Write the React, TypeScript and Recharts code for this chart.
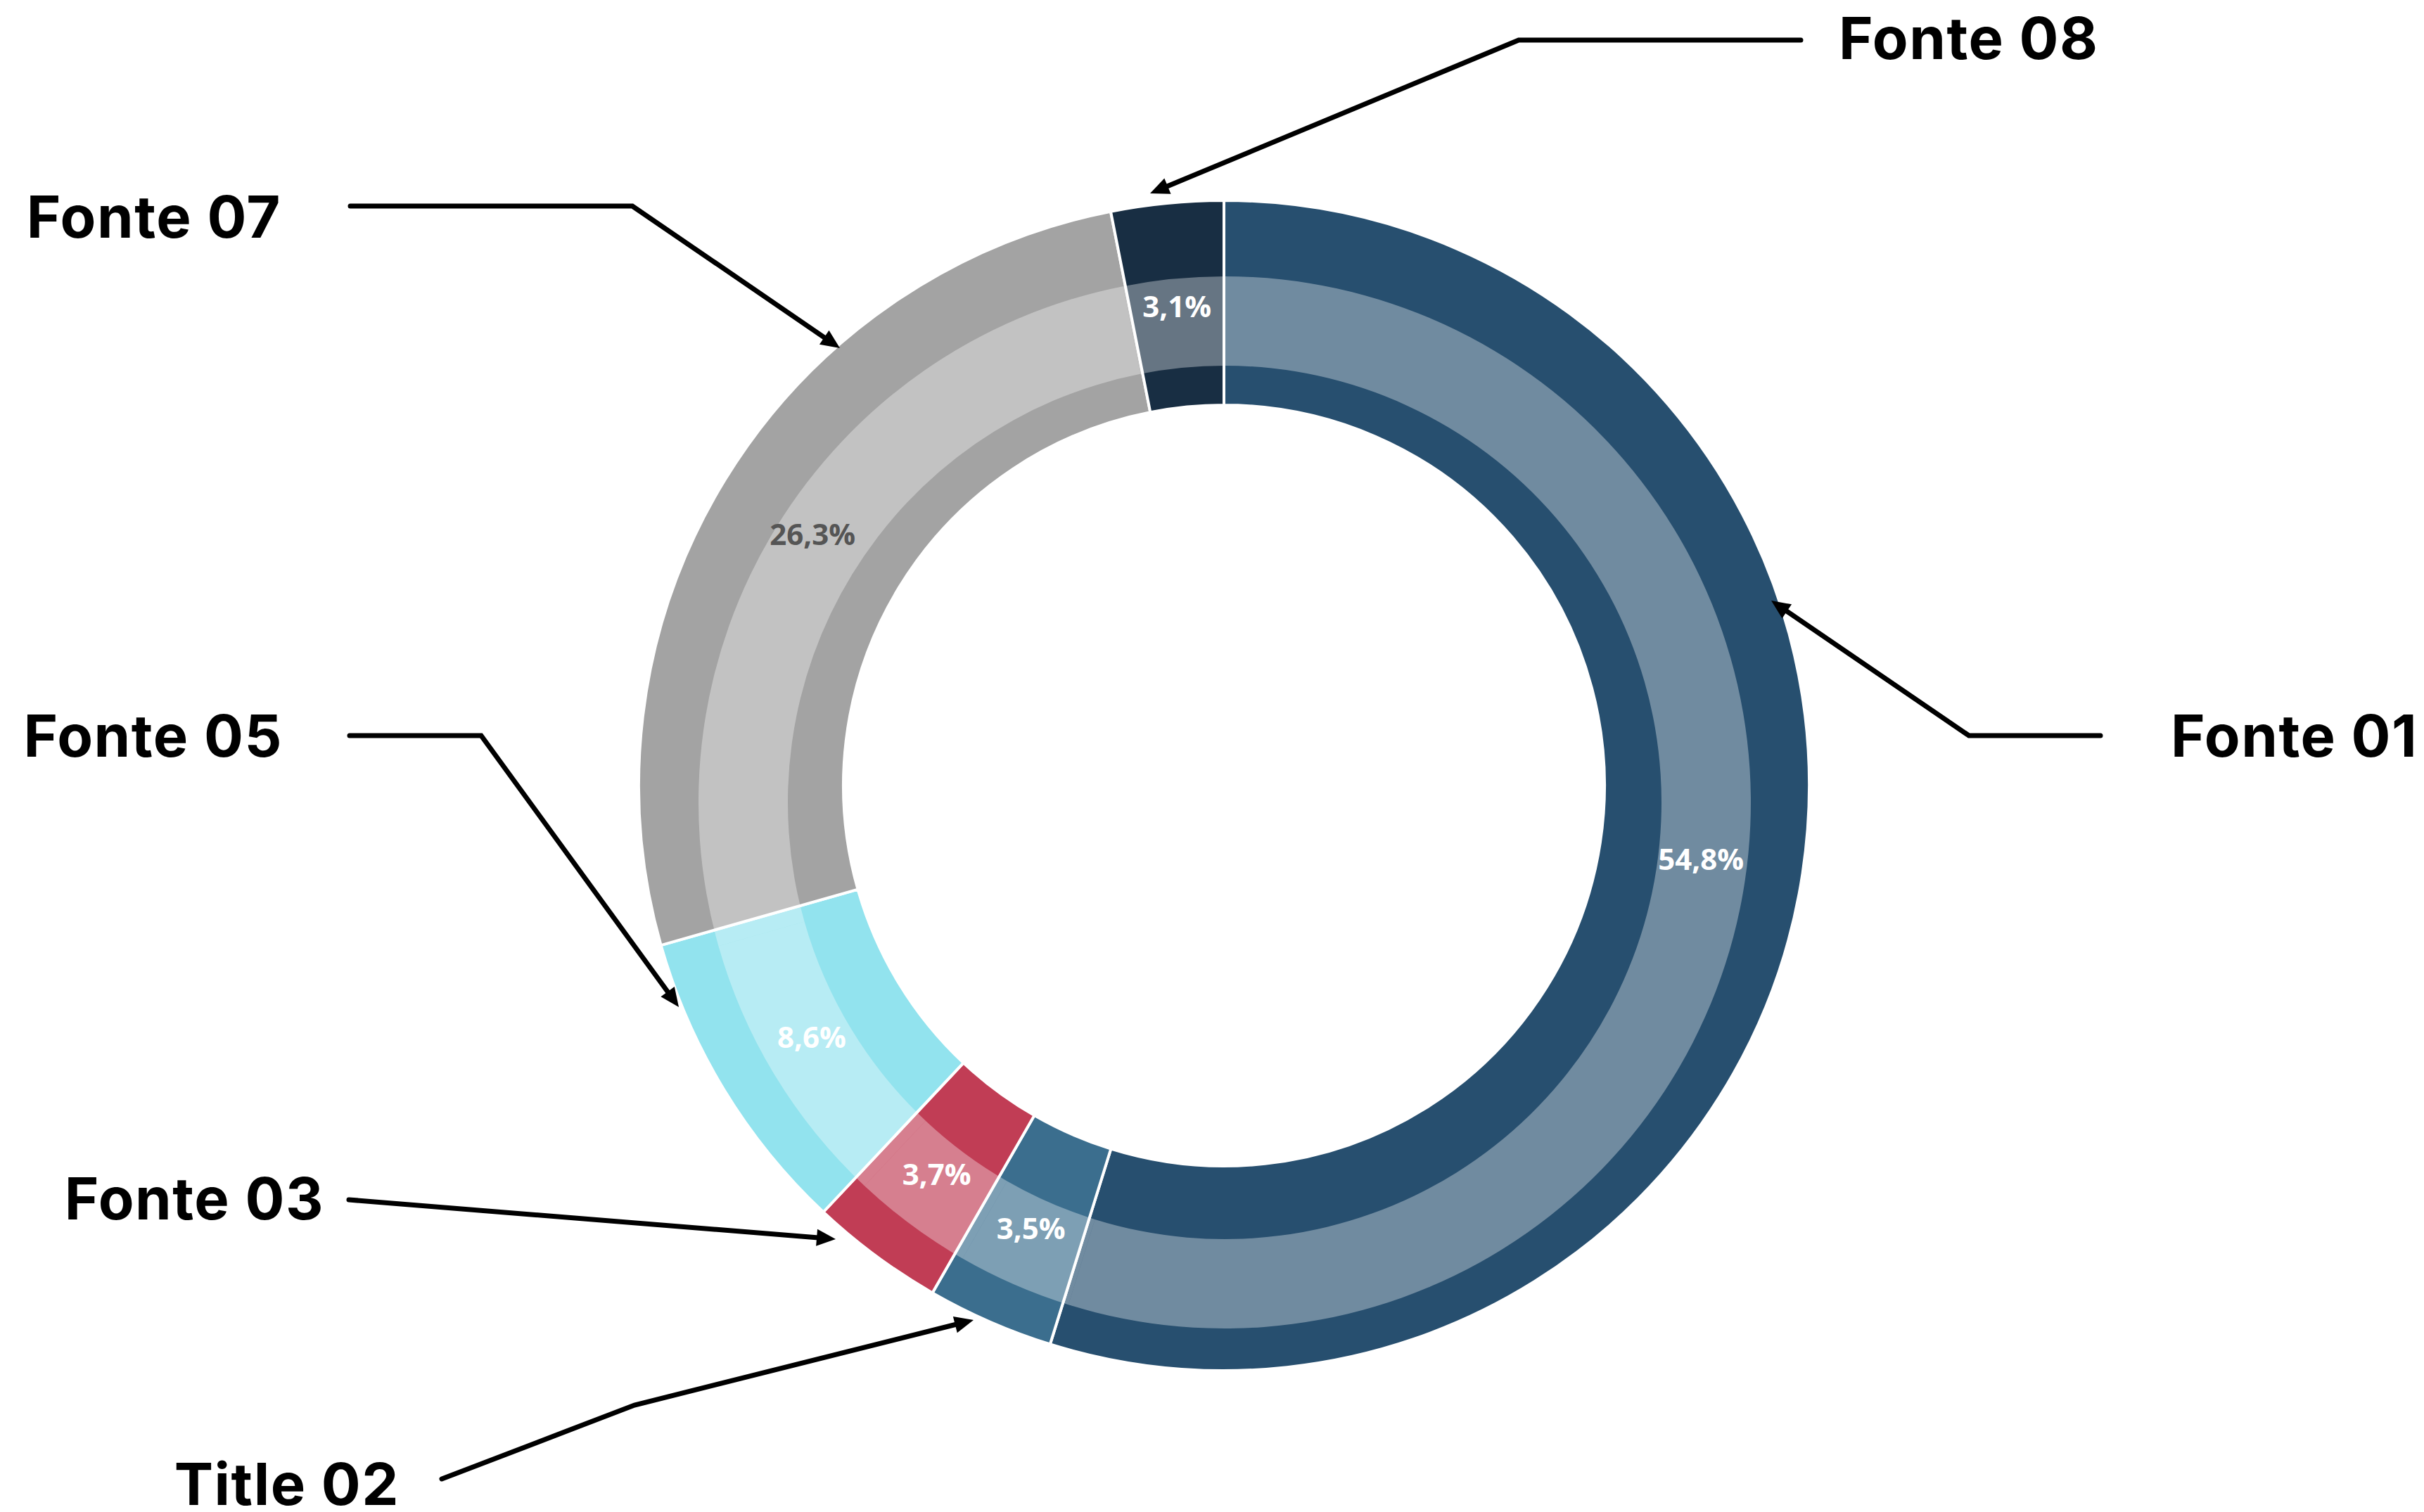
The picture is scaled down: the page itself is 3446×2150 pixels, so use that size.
import React from 'react';
import { PieChart, Pie, Cell } from 'recharts';

const categories = ['Fonte 01', 'Title 02', 'Fonte 03', 'Fonte 05', 'Fonte 07', 'Fonte 08'];
const shares = [54.8, 3.5, 3.7, 8.6, 26.3, 3.1];
const sliceColors = ['#274F6F', '#3B6E8E', '#C13D55', '#92E3EE', '#A3A3A3', '#182E43'];
const labelColors = ['#FFFFFF', '#FFFFFF', '#FFFFFF', '#FFFFFF', '#555555', '#FFFFFF'];

const data = categories.map((name, i) => ({ name, value: shares[i] }));

const W = 3446;
const H = 2150;
const CX = 1740;
const CY = 1117;
const RAD = Math.PI / 180;

// callouts, same order as categories
const callouts = [
    { x: 3086, y: 1076, anchor: 'start', path: [[2986, 1046], [2799, 1046], [2518, 854]] },
    { x: 568, y: 2140, anchor: 'end', path: [[628, 2103], [902, 1998], [1384, 1877]] },
    { x: 461, y: 1734, anchor: 'end', path: [[496, 1706], [1188, 1762]] },
    { x: 402, y: 1076, anchor: 'end', path: [[497, 1046], [684, 1046], [965, 1432]] },
    { x: 400, y: 338, anchor: 'end', path: [[498, 293], [899, 293], [1194, 495]] },
    { x: 2614, y: 84, anchor: 'start', path: [[2560, 57], [2159, 57], [1635, 275]] },
];

const fmt = (v: number) => `${v.toFixed(1).replace('.', ',')}%`;

const renderPct = (props: any) => {
    const { cx, cy, midAngle, index, value } = props;
    const r = 686;
    const x = cx + r * Math.cos(-midAngle * RAD);
    const y = cy + r * Math.sin(-midAngle * RAD);
    return (
        <text
            x={x}
            y={y}
            textAnchor="middle"
            dominantBaseline="central"
            fill={labelColors[index]}
            style={{ fontFamily: '"Open Sans", sans-serif', fontWeight: 700, fontSize: 42 }}
        >
            {fmt(value)}
        </text>
    );
};

const Leader: React.FC<{ pts: number[][] }> = ({ pts }) => {
    const [tx, ty] = pts[pts.length - 1];
    const [px, py] = pts[pts.length - 2];
    const len = Math.hypot(tx - px, ty - py);
    const ux = (tx - px) / len;
    const uy = (ty - py) / len;
    const head = 27;
    const half = 12;
    const bx = tx - ux * head;
    const by = ty - uy * head;
    const line = [...pts.slice(0, -1), [tx - ux * head * 0.8, ty - uy * head * 0.8]];
    return (
        <g>
            <polyline
                points={line.map((p) => p.join(',')).join(' ')}
                fill="none"
                stroke="#000"
                strokeWidth={7}
                strokeLinecap="round"
                strokeLinejoin="miter"
            />
            <polygon
                points={`${tx},${ty} ${bx - uy * half},${by + ux * half} ${bx + uy * half},${by - ux * half}`}
                fill="#000"
            />
        </g>
    );
};

const App: React.FC = () => {
    return (
        <div style={{ position: 'absolute', left: 0, top: 0, width: W, height: H, background: '#fff' }}>
            <PieChart width={W} height={H} margin={{ top: 0, right: 0, bottom: 0, left: 0 }}>
                <Pie
                    data={data}
                    dataKey="value"
                    nameKey="name"
                    cx={CX}
                    cy={CY}
                    innerRadius={541}
                    outerRadius={832}
                    startAngle={90}
                    endAngle={-270}
                    stroke="#FFFFFF"
                    strokeWidth={4}
                    isAnimationActive={false}
                >
                    {data.map((d, i) => (
                        <Cell key={d.name} fill={sliceColors[i]} />
                    ))}
                </Pie>
                {/* lighter band, slightly lowered */}
                <Pie
                    data={data}
                    dataKey="value"
                    cx={CX + 1}
                    cy={CY + 24}
                    innerRadius={621}
                    outerRadius={748}
                    startAngle={90}
                    endAngle={-270}
                    fill="#FFFFFF"
                    fillOpacity={0.34}
                    stroke="none"
                    isAnimationActive={false}
                />
                {/* percentage labels */}
                <Pie
                    data={data}
                    dataKey="value"
                    cx={CX}
                    cy={CY}
                    innerRadius={621}
                    outerRadius={748}
                    startAngle={90}
                    endAngle={-270}
                    fill="none"
                    stroke="none"
                    label={renderPct}
                    labelLine={false}
                    isAnimationActive={false}
                />
            </PieChart>
            <svg width={W} height={H} style={{ position: 'absolute', left: 0, top: 0, pointerEvents: 'none' }}>
                {callouts.map((c, i) => (
                    <g key={categories[i]}>
                        <Leader pts={c.path} />
                        <text
                            x={c.x}
                            y={c.y}
                            textAnchor={c.anchor as any}
                            fill="#000"
                            style={{ fontFamily: 'Inter, sans-serif', fontWeight: 700, fontSize: 83, letterSpacing: 1.5 }}
                        >
                            {categories[i]}
                        </text>
                    </g>
                ))}
            </svg>
        </div>
    );
};

export default App;
